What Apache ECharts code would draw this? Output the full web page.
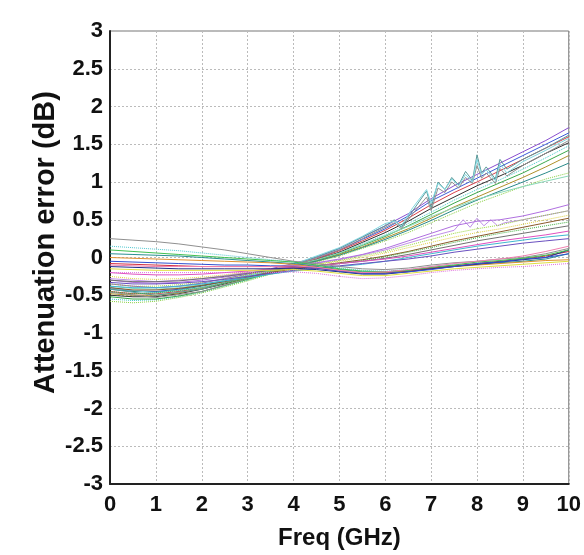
<!DOCTYPE html>
<html><head><meta charset="utf-8">
<script src="https://cdn.jsdelivr.net/npm/echarts@6/dist/echarts.min.js"></script>
<style>html,body{margin:0;padding:0;background:#fff}#c{width:584px;height:555px}</style>
</head><body><div id="c"></div>
<script>
// Frequency grids (GHz)
const freq = [0,0.5,1,1.5,2,2.5,3,3.5,4,4.5,5,5.5,6,6.5,7,7.5,8,8.5,9,9.5,10];
const freqJ = [0,1,2,3,4,5,5.5,6,6.2,6.35,6.6,6.9,7.0,7.15,7.3,7.45,7.6,7.75,7.9,8.0,8.1,8.2,8.4,8.5,8.65,9,9.5,10];
const freqP = [0,1,2,3,4,5,6,7,7.5,7.7,7.85,8.0,8.15,8.3,8.45,8.6,9,9.5,10];
const yTicks = [-3,-2.5,-2,-1.5,-1,-0.5,0,0.5,1,1.5,2,2.5,3];
const xTicks = [0,1,2,3,4,5,6,7,8,9,10];

// Upper bundle (start low, rise steeply)
const U1 = [-0.35,-0.38,-0.4,-0.38,-0.34,-0.28,-0.22,-0.15,-0.08,0.0,0.12,0.27,0.42,0.58,0.78,0.95,1.1,1.25,1.4,1.55,1.72];
const U2 = [-0.4,-0.44,-0.45,-0.42,-0.37,-0.31,-0.24,-0.17,-0.1,-0.02,0.1,0.24,0.38,0.55,0.75,0.9,1.05,1.2,1.35,1.5,1.65];
const U3 = [-0.45,-0.48,-0.48,-0.45,-0.4,-0.33,-0.26,-0.18,-0.1,-0.02,0.09,0.22,0.36,0.52,0.7,0.86,1.0,1.15,1.3,1.45,1.6];
const U4 = [-0.5,-0.52,-0.52,-0.48,-0.42,-0.35,-0.27,-0.19,-0.11,-0.03,0.07,0.2,0.33,0.48,0.65,0.8,0.95,1.08,1.22,1.38,1.52];
const U5 = [-0.55,-0.57,-0.56,-0.52,-0.46,-0.38,-0.3,-0.21,-0.12,-0.04,0.06,0.18,0.3,0.45,0.6,0.76,0.9,1.03,1.17,1.32,1.48];
const U6 = [-0.52,-0.55,-0.55,-0.51,-0.45,-0.37,-0.29,-0.2,-0.12,-0.04,0.05,0.16,0.28,0.42,0.57,0.72,0.86,0.99,1.12,1.27,1.42];
const U7 = [-0.48,-0.5,-0.5,-0.47,-0.41,-0.34,-0.27,-0.19,-0.12,-0.05,0.04,0.14,0.26,0.38,0.52,0.67,0.8,0.93,1.06,1.2,1.35];
const U8 = [-0.42,-0.45,-0.46,-0.43,-0.38,-0.32,-0.25,-0.18,-0.11,-0.05,0.03,0.13,0.24,0.36,0.49,0.63,0.76,0.88,1.0,1.12,1.25];
const U9 = [-0.58,-0.6,-0.58,-0.53,-0.47,-0.39,-0.31,-0.22,-0.14,-0.06,0.02,0.12,0.22,0.33,0.46,0.59,0.72,0.83,0.94,1.04,1.12];
const U10 = [-0.38,-0.41,-0.42,-0.4,-0.36,-0.3,-0.24,-0.17,-0.1,-0.03,0.06,0.17,0.29,0.41,0.54,0.66,0.77,0.86,0.94,1.01,1.08];

// Jagged upper traces
const J1 = [-0.42,-0.5,-0.42,-0.26,-0.1,0.12,0.27,0.42,0.5,0.4,0.62,0.88,0.66,1.0,0.9,1.06,0.96,1.14,1.02,1.36,1.12,1.2,1.04,1.3,1.17,1.3,1.45,1.62];
const J2 = [-0.46,-0.53,-0.45,-0.28,-0.11,0.1,0.25,0.4,0.46,0.38,0.58,0.8,0.62,0.92,0.86,1.0,0.92,1.06,0.98,1.22,1.05,1.12,0.98,1.18,1.08,1.22,1.38,1.55];
const J3 = [-0.4,-0.47,-0.4,-0.25,-0.09,0.13,0.28,0.45,0.48,0.42,0.66,0.9,0.72,0.98,0.9,1.04,0.95,1.1,1.0,1.3,1.1,1.16,1.02,1.24,1.12,1.27,1.42,1.58];

// Jagged middle trace
const P1 = [-0.28,-0.32,-0.28,-0.2,-0.12,-0.03,0.1,0.28,0.36,0.5,0.4,0.52,0.42,0.5,0.42,0.46,0.5,0.56,0.62];

// Middle bundle
const M1 = [-0.3,-0.33,-0.34,-0.33,-0.3,-0.26,-0.21,-0.16,-0.11,-0.07,-0.02,0.04,0.12,0.22,0.32,0.42,0.48,0.5,0.55,0.62,0.7];
const M2 = [-0.35,-0.38,-0.38,-0.36,-0.33,-0.28,-0.23,-0.18,-0.13,-0.09,-0.04,0.02,0.08,0.16,0.24,0.32,0.38,0.43,0.5,0.56,0.62];
const M3 = [-0.25,-0.28,-0.29,-0.28,-0.26,-0.23,-0.19,-0.15,-0.12,-0.09,-0.05,0.0,0.06,0.13,0.2,0.27,0.33,0.38,0.44,0.5,0.56];
const M4 = [-0.4,-0.43,-0.43,-0.41,-0.37,-0.32,-0.26,-0.2,-0.15,-0.11,-0.07,-0.03,0.02,0.08,0.15,0.22,0.28,0.34,0.4,0.46,0.52];
const M5 = [-0.45,-0.48,-0.47,-0.44,-0.4,-0.34,-0.28,-0.22,-0.17,-0.12,-0.08,-0.04,0.01,0.07,0.13,0.2,0.26,0.32,0.37,0.42,0.47];
const M6 = [-0.3,-0.32,-0.32,-0.31,-0.28,-0.25,-0.21,-0.17,-0.14,-0.11,-0.08,-0.05,-0.01,0.04,0.1,0.16,0.22,0.27,0.32,0.37,0.42];
const M7 = [-0.2,-0.22,-0.23,-0.23,-0.22,-0.2,-0.18,-0.15,-0.13,-0.11,-0.08,-0.05,-0.02,0.02,0.07,0.12,0.17,0.22,0.26,0.3,0.35];
const M8 = [-0.38,-0.4,-0.4,-0.38,-0.35,-0.31,-0.27,-0.22,-0.18,-0.15,-0.12,-0.09,-0.05,0.0,0.05,0.1,0.15,0.19,0.23,0.27,0.3];
const M9 = [-0.33,-0.35,-0.35,-0.34,-0.32,-0.29,-0.25,-0.21,-0.17,-0.14,-0.11,-0.08,-0.05,-0.02,0.02,0.07,0.11,0.15,0.19,0.22,0.25];

// Lower bundle (start high, stay near 0)
const L1 = [0.25,0.23,0.21,0.18,0.14,0.1,0.05,0.0,-0.05,-0.08,-0.12,-0.15,-0.16,-0.14,-0.1,-0.07,-0.05,-0.02,0.0,0.05,0.12];
const L2 = [0.15,0.13,0.11,0.09,0.06,0.03,0.0,-0.03,-0.06,-0.1,-0.14,-0.17,-0.18,-0.16,-0.12,-0.09,-0.07,-0.05,-0.02,0.02,0.08];
const L3 = [0.05,0.04,0.03,0.02,0.0,-0.02,-0.04,-0.06,-0.08,-0.12,-0.16,-0.19,-0.19,-0.17,-0.14,-0.11,-0.09,-0.07,-0.05,-0.02,0.05];
const L4 = [0.0,-0.01,-0.02,-0.03,-0.04,-0.05,-0.06,-0.07,-0.09,-0.13,-0.17,-0.2,-0.2,-0.18,-0.15,-0.12,-0.1,-0.08,-0.06,-0.04,-0.03];
const L5 = [-0.08,-0.09,-0.1,-0.11,-0.12,-0.12,-0.12,-0.12,-0.12,-0.14,-0.18,-0.21,-0.21,-0.18,-0.14,-0.11,-0.08,-0.05,-0.02,0.02,0.08];
const L6 = [-0.12,-0.13,-0.14,-0.15,-0.15,-0.15,-0.15,-0.15,-0.14,-0.16,-0.19,-0.22,-0.22,-0.19,-0.15,-0.12,-0.09,-0.06,-0.03,0.0,0.1];
const L7 = [-0.15,-0.16,-0.17,-0.17,-0.17,-0.17,-0.17,-0.17,-0.16,-0.18,-0.21,-0.24,-0.24,-0.21,-0.18,-0.15,-0.13,-0.11,-0.09,-0.07,-0.05];
const L8 = [-0.2,-0.2,-0.2,-0.2,-0.2,-0.2,-0.2,-0.2,-0.19,-0.21,-0.25,-0.28,-0.27,-0.24,-0.2,-0.17,-0.15,-0.13,-0.12,-0.1,-0.08];
const L9 = [-0.05,-0.06,-0.07,-0.08,-0.09,-0.1,-0.1,-0.11,-0.11,-0.14,-0.18,-0.21,-0.21,-0.19,-0.16,-0.12,-0.08,-0.06,-0.02,0.0,0.05];
const L10 = [0.1,0.08,0.06,0.04,0.02,0.0,-0.02,-0.04,-0.06,-0.1,-0.15,-0.18,-0.19,-0.17,-0.13,-0.1,-0.06,-0.04,-0.01,0.03,0.1];
const L11 = [-0.1,-0.11,-0.12,-0.12,-0.12,-0.12,-0.12,-0.12,-0.11,-0.13,-0.17,-0.2,-0.19,-0.16,-0.12,-0.08,-0.05,-0.02,0.02,0.08,0.15];

const traces = [
  ['U1',freq,U1],['U2',freq,U2],['U3',freq,U3],['U4',freq,U4],['U5',freq,U5],
  ['U6',freq,U6],['U7',freq,U7],['U8',freq,U8],['U9',freq,U9],['U10',freq,U10],
  ['J1',freqJ,J1],['J2',freqJ,J2],['J3',freqJ,J3],['P1',freqP,P1],
  ['M1',freq,M1],['M2',freq,M2],['M3',freq,M3],['M4',freq,M4],['M5',freq,M5],
  ['M6',freq,M6],['M7',freq,M7],['M8',freq,M8],['M9',freq,M9],
  ['L1',freq,L1],['L2',freq,L2],['L3',freq,L3],['L4',freq,L4],['L5',freq,L5],
  ['L6',freq,L6],['L7',freq,L7],['L8',freq,L8],['L9',freq,L9],['L10',freq,L10],['L11',freq,L11]
];
const styles = {
  U1:['#8a4fd0','solid'],U2:['#3c5cd8','solid'],U3:['#d8404a','solid'],U4:['#303030','solid'],
  U5:['#3fc9c9','dotted'],U6:['#3aa84a','solid'],U7:['#b0902a','solid'],U8:['#2a8a8a','solid'],
  U9:['#88d040','dotted'],U10:['#8ad8b8','solid'],
  J1:['#5a9a9a','solid'],J2:['#909090','solid'],J3:['#80d8e0','solid'],P1:['#c090e8','solid'],
  M1:['#b070e0','solid'],M2:['#9ad83a','dotted'],M3:['#e0d040','dotted'],M4:['#8a5a2a','solid'],
  M5:['#40b040','dotted'],M6:['#707070','solid'],M7:['#e050c0','solid'],M8:['#40b8d0','solid'],M9:['#6a50c0','solid'],
  L1:['#909090','solid'],L2:['#50c8d0','dotted'],L3:['#2a9090','solid'],L4:['#e09030','solid'],
  L5:['#d03040','solid'],L6:['#20308a','solid'],L7:['#e0e040','solid'],L8:['#e070e0','dotted'],
  L9:['#3050d0','solid'],L10:['#40c050','solid'],L11:['#f080b0','solid']
};

const series = traces.map(([name,xs,ys]) => ({
  name, type:'line', showSymbol:false, symbol:'none', smooth:false,
  data: xs.map((x,i)=>[x,ys[i]]),
  lineStyle:{width:1, color:styles[name][0], type:styles[name][1]},
  emphasis:{disabled:true}
}));

const FONT = '"Liberation Sans", Arial, sans-serif';
const chart = echarts.init(document.getElementById('c'), null, {renderer:'canvas'});
chart.setOption({
  animation:false,
  backgroundColor:'#fff',
  grid:{left:110, right:13, top:31, bottom:71, show:true, borderColor:'#777', borderWidth:1},
  xAxis:{
    type:'value', min:xTicks[0], max:xTicks[xTicks.length-1], interval:1,
    name:'Freq (GHz)', nameLocation:'middle', nameGap:42, nameMoveOverlap:false,
    nameTextStyle:{fontFamily:FONT, fontWeight:'bold', fontSize:24, color:'#111'},
    axisLine:{show:true, onZero:false, lineStyle:{color:'#222', width:2}},
    axisTick:{show:false},
    axisLabel:{fontFamily:FONT, fontWeight:'bold', fontSize:22, color:'#111', margin:10},
    splitLine:{show:true, lineStyle:{color:'#bbb', type:[2,2], width:1}}
  },
  yAxis:{
    type:'value', min:yTicks[0], max:yTicks[yTicks.length-1], interval:0.5,
    name:'Attenuation error (dB)', nameLocation:'middle', nameGap:50, nameRotate:90, nameMoveOverlap:false,
    nameTextStyle:{fontFamily:FONT, fontWeight:'bold', fontSize:29, color:'#111', padding:[0,0,0,30]},
    axisLine:{show:true, onZero:false, lineStyle:{color:'#222', width:2}},
    axisTick:{show:false},
    axisLabel:{fontFamily:FONT, fontWeight:'bold', fontSize:22, color:'#111', margin:7},
    splitLine:{show:true, lineStyle:{color:'#bbb', type:[2,2], width:1}}
  },
  series
});
</script></body></html>
